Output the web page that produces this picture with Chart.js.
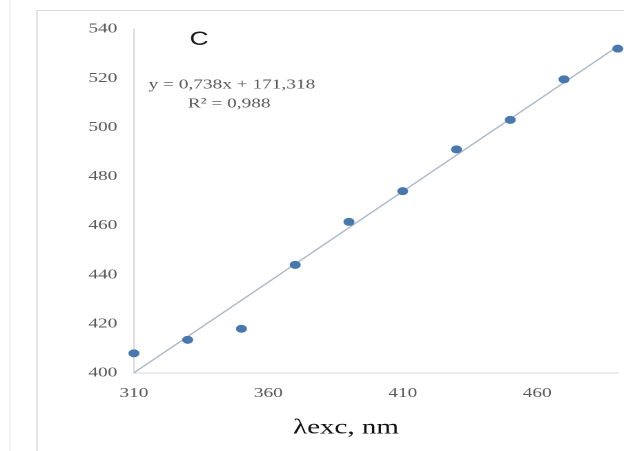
<!DOCTYPE html>
<html>
<head>
<meta charset="utf-8">
<script src="https://cdn.jsdelivr.net/npm/chart.js@4/dist/chart.umd.min.js"></script>
<style>
  html, body { margin: 0; padding: 0; background: #ffffff; overflow: hidden; }
  /* the figure is set in a narrow frame and widened to fill the page */
  #frame { width: 452px; height: 451px; transform: scaleX(1.3805); transform-origin: 0 0; }
  canvas { display: block; }
</style>
</head>
<body>
<div id="frame"><canvas id="c" width="452" height="451" style="width:452px;height:451px"></canvas></div>
<script>
// excitation wavelength (nm) and emission maximum (nm)
const excitation = [310, 330, 350, 370, 390, 410, 430, 450, 470, 490];
const emission   = [408, 413.5, 418, 444, 461.5, 474, 491, 503, 519.5, 532];

// axis ticks
const xTicks = [310, 360, 410, 460];
const yTicks = [400, 420, 440, 460, 480, 500, 520, 540];

// linear fit as printed on the panel
const trendSlope = 0.738;
const trendIntercept = 171.318;
const rSquared = 0.988;
const panelLabel = 'C';
const xTitle = 'λexc, nm';

const serif = '"Liberation Serif", "Times New Roman", serif';
const fmt = (v, d) => v.toFixed(d).replace('.', ',');

const points = excitation.map((x, i) => ({ x: x, y: emission[i] }));
const xMin = excitation[0], xMax = excitation[excitation.length - 1];
const trend = [xMin, xMax].map(x => ({ x: x, y: trendSlope * x + trendIntercept }));

const decor = {
  id: 'decor',
  beforeDraw(chart) {
    const ctx = chart.ctx;
    ctx.save();
    ctx.fillStyle = '#ffffff';
    ctx.fillRect(0, 0, chart.width, chart.height);
    // neighbouring panel edge and this panel's frame
    ctx.strokeStyle = '#eeeeee';
    ctx.lineWidth = 1;
    ctx.beginPath();
    ctx.moveTo(7.2, 0); ctx.lineTo(7.2, chart.height);
    ctx.stroke();
    ctx.strokeStyle = '#d9d9d9';
    ctx.beginPath();
    ctx.moveTo(26.8, chart.height + 2); ctx.lineTo(26.8, 10.5); ctx.lineTo(chart.width + 2, 10.5);
    ctx.stroke();
    ctx.restore();
  },
  afterDraw(chart) {
    const ctx = chart.ctx;
    ctx.save();
    ctx.textAlign = 'center';
    ctx.textBaseline = 'middle';
    ctx.fillStyle = '#1a1a1a';
    ctx.font = '19px "Liberation Sans", Arial, sans-serif';
    ctx.fillText(panelLabel, 144.2, 40);
    ctx.fillStyle = '#595959';
    ctx.font = '14px ' + serif;
    ctx.fillText('y = ' + fmt(trendSlope, 3) + 'x + ' + fmt(trendIntercept, 3), 168, 85);
    ctx.fillText('R² = ' + fmt(rSquared, 3), 166, 104);
    ctx.fillStyle = '#111111';
    ctx.font = '21px ' + serif;
    ctx.fillText(xTitle, 250.6, 428);
    ctx.restore();
  }
};

new Chart(document.getElementById('c'), {
  type: 'scatter',
  data: {
    datasets: [
      {
        type: 'line',
        data: trend,
        borderColor: '#aab7c8',
        borderWidth: 1.2,
        pointRadius: 0,
        fill: false,
        clip: false,
        order: 2
      },
      {
        data: points,
        backgroundColor: '#4a78ad',
        borderColor: '#4a78ad',
        pointRadius: 3.5,
        pointHoverRadius: 3.5,
        clip: false,
        order: 1
      }
    ]
  },
  options: {
    responsive: false,
    devicePixelRatio: 2,
    animation: false,
    layout: { padding: { top: 29, right: 3, left: 0, bottom: 0 } },
    plugins: { legend: { display: false }, tooltip: { enabled: false }, title: { display: false } },
    scales: {
      x: {
        type: 'linear',
        min: xMin,
        max: xMax,
        afterBuildTicks(scale) { scale.ticks = xTicks.map(v => ({ value: v })); },
        afterFit(scale) { scale.height = 78; },
        grid: { display: false, drawTicks: false },
        border: { display: true, color: '#d9d9d9', width: 1 },
        ticks: { color: '#595959', font: { family: serif, size: 14 }, padding: 12, maxRotation: 0 }
      },
      y: {
        type: 'linear',
        min: yTicks[0],
        max: yTicks[yTicks.length - 1],
        afterBuildTicks(scale) { scale.ticks = yTicks.map(v => ({ value: v })); },
        afterFit(scale) { scale.width = 97; },
        grid: { display: false, drawTicks: false },
        border: { display: true, color: '#d9d9d9', width: 1 },
        ticks: { color: '#595959', font: { family: serif, size: 14 }, padding: 12 }
      }
    }
  },
  plugins: [decor]
});
</script>
</body>
</html>
